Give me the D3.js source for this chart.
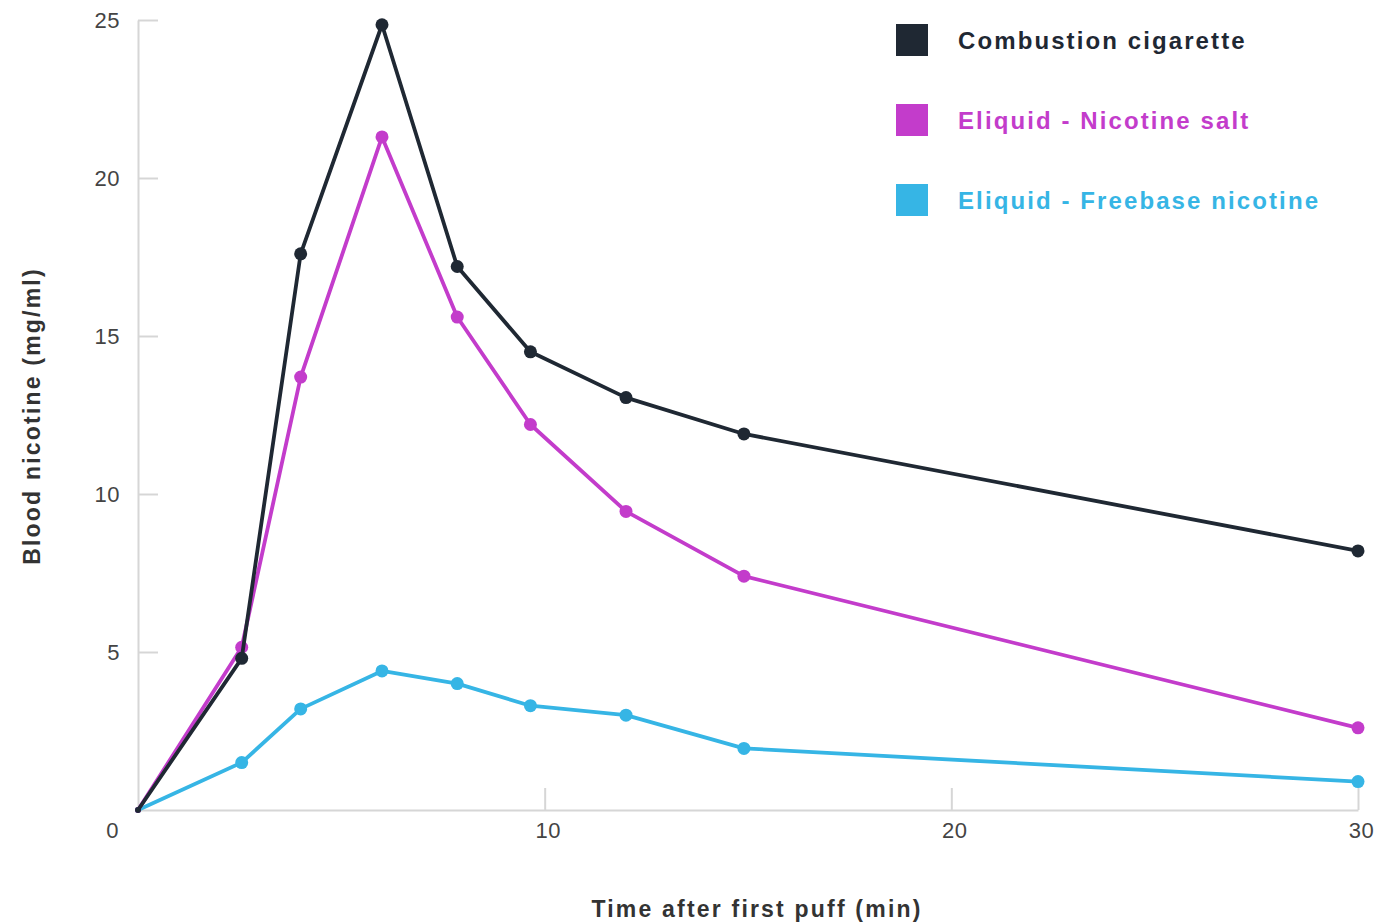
<!DOCTYPE html>
<html>
<head>
<meta charset="utf-8">
<script src="https://cdn.jsdelivr.net/npm/d3@7"></script>
<style>
body{margin:0;background:#fff;}
svg{display:block;font-family:"Liberation Sans",Arial,sans-serif;}
.axis path,.axis line{stroke:#d6d6d6;stroke-width:2;}
.axis text{font-size:22px;fill:#444;letter-spacing:0.5px;}
.label{font-size:23px;fill:#333;font-weight:bold;letter-spacing:2.2px;}
.legend text{font-size:24px;font-weight:bold;letter-spacing:2.1px;}
</style>
</head>
<body>
<svg></svg>
<script>
// minutes after first puff
var times = [0, 2.55, 4, 6, 7.85, 9.65, 12, 14.9, 30]
var combustion = [0, 4.8, 17.6, 24.85, 17.2, 14.5, 13.05, 11.9, 8.2]
var nicSalt = [0, 5.15, 13.7, 21.3, 15.6, 12.2, 9.45, 7.4, 2.6]
var freebase = [0, 1.5, 3.2, 4.4, 4.0, 3.3, 3.0, 1.95, 0.9]
var xTicks = [0, 10, 20, 30]
var yTicks = [5, 10, 15, 20, 25]

var seriesNames = ["Combustion cigarette", "Eliquid - Nicotine salt", "Eliquid - Freebase nicotine"]
var seriesColors = ["#1f2833", "#c33ccb", "#36b5e5"]

var makeTranslateString = function(x,y)
{
    return "translate("+x+","+y+")";
}

var screen = {width:1376,height:924}
var margins = {left:138,right:18,top:20,bottom:114}
var graph = {
    width:screen.width-margins.left-margins.right,
    height:screen.height-margins.top-margins.bottom
}

var svg = d3.select("svg")
    .attr("width",screen.width)
    .attr("height",screen.height)

var xScale = d3.scaleLinear()
    .domain([0,30])
    .range([0,graph.width])
var yScale = d3.scaleLinear()
    .domain([0,25])
    .range([graph.height,0])

//Axes
var drawAxes = function()
{
    var xAxis = d3.axisBottom(xScale)
        .tickValues(xTicks)
        .tickSizeInner(-22)
        .tickSizeOuter(0)
        .tickPadding(12)
    var yAxis = d3.axisLeft(yScale)
        .tickValues(yTicks)
        .tickSizeInner(-20)
        .tickSizeOuter(0)
        .tickPadding(18)

    var gx = svg.append("g")
        .classed("axis",true)
        .attr("transform",makeTranslateString(margins.left,margins.top+graph.height))
        .call(xAxis)
    gx.selectAll(".tick text").attr("x",3)
    // the 0 label sits at the corner, left of the origin
    gx.selectAll(".tick")
        .filter(function(d){return d==0})
        .select("text")
        .attr("x",-26)
    gx.selectAll(".tick")
        .filter(function(d){return d==0})
        .select("line").remove()

    svg.append("g")
        .classed("axis",true)
        .attr("transform",makeTranslateString(margins.left,margins.top))
        .call(yAxis)
}

//Lines
var drawLines = function()
{
    var target = svg.append("g")
        .attr("transform",makeTranslateString(margins.left,margins.top))
    var allSeries = [combustion, nicSalt, freebase]
    var line = d3.line()
        .x(function(d,i){return xScale(times[i])})
        .y(function(d){return yScale(d)})

    // draw freebase first, combustion on top
    for (var s = allSeries.length-1; s >= 0; s--)
    {
        var g = target.append("g")
        g.append("path")
            .datum(allSeries[s])
            .attr("d",line)
            .attr("fill","none")
            .attr("stroke",seriesColors[s])
            .attr("stroke-width",3.8)
            .attr("stroke-linejoin","round")
        g.selectAll("circle")
            .data(allSeries[s])
            .enter()
            .append("circle")
            .attr("cx",function(d,i){return xScale(times[i])})
            .attr("cy",function(d){return yScale(d)})
            .attr("r",function(d,i){return i==0 ? 3 : 6.5})
            .attr("fill",seriesColors[s])
    }
}

//Labels
var drawLabels = function()
{
    svg.append("text")
        .text("Time after first puff (min)")
        .classed("label",true)
        .attr("text-anchor","middle")
        .attr("x",757)
        .attr("y",917)

    svg.append("g")
        .attr("transform",makeTranslateString(40,416))
        .append("text")
        .text("Blood nicotine (mg/ml)")
        .classed("label",true)
        .attr("text-anchor","middle")
        .attr("transform","rotate(270)")
}

//Legend
var drawLegend = function()
{
    var legend = svg.append("g")
        .classed("legend",true)
        .attr("transform",makeTranslateString(896,24))
    var entries = legend.selectAll("g")
        .data(seriesNames)
        .enter()
        .append("g")
        .attr("transform",function(d,i){return "translate(0,"+i*80+")"})
    entries.append("rect")
        .attr("width",32)
        .attr("height",32)
        .attr("fill",function(d,i){return seriesColors[i]})
    entries.append("text")
        .text(function(d){return d})
        .attr("x",62)
        .attr("y",25)
        .attr("fill",function(d,i){return seriesColors[i]})
}

drawAxes();
drawLines();
drawLabels();
drawLegend();
</script>
</body>
</html>
